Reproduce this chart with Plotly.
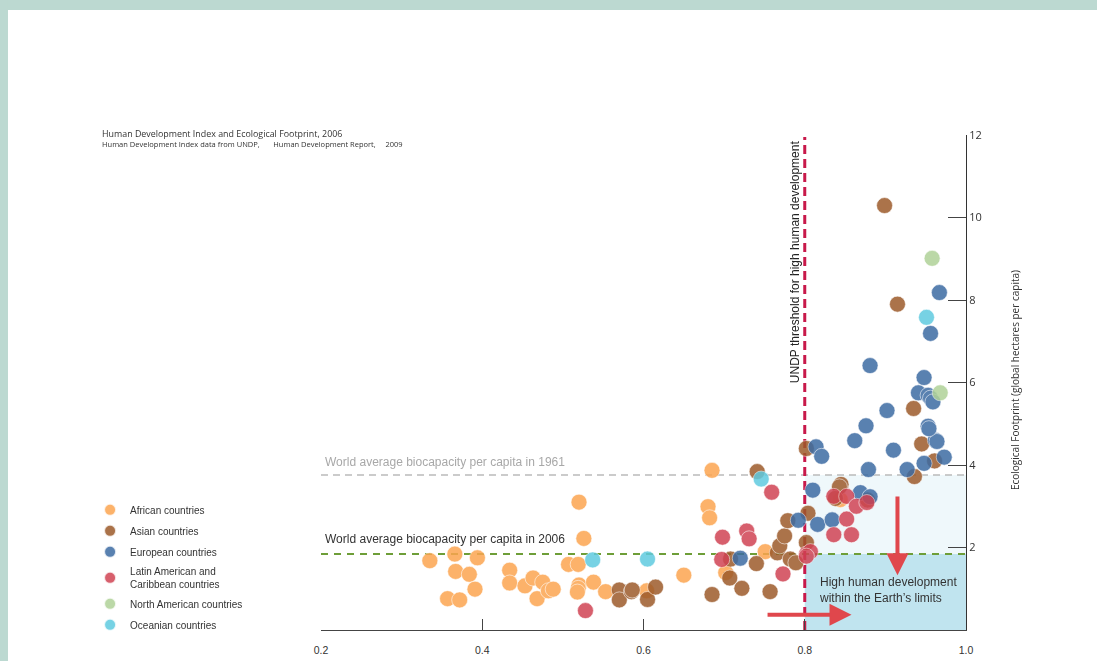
import plotly.graph_objects as go

# ---- data (HDI, Ecological Footprint) ----
african_hdi = [0.335, 0.366, 0.394, 0.367, 0.384, 0.391, 0.357, 0.372, 0.434, 0.434, 0.453,
               0.463, 0.475, 0.468, 0.482, 0.488, 0.520, 0.526, 0.507, 0.519, 0.520, 0.519,
               0.518, 0.538, 0.553, 0.604, 0.650, 0.685, 0.680, 0.682, 0.702, 0.751, 0.844]
african_ef = [1.68, 1.84, 1.75, 1.42, 1.35, 0.99, 0.76, 0.73, 1.45, 1.14, 1.07,
              1.26, 1.16, 0.76, 0.95, 0.99, 3.10, 2.22, 1.59, 1.59, 1.09, 1.01,
              0.92, 1.16, 0.93, 0.95, 1.33, 3.87, 2.99, 2.72, 1.39, 1.90, 3.16]

asian_hdi = [0.570, 0.570, 0.585, 0.586, 0.605, 0.615, 0.685, 0.708, 0.707, 0.722, 0.741,
             0.740, 0.757, 0.766, 0.769, 0.775, 0.779, 0.782, 0.789, 0.804, 0.802, 0.802,
             0.845, 0.843, 0.838, 0.878, 0.899, 0.915, 0.935, 0.945, 0.961, 0.936]
asian_ef = [0.97, 0.73, 0.93, 0.97, 0.74, 1.04, 0.86, 1.72, 1.26, 1.01, 3.84,
            1.61, 0.93, 1.87, 2.04, 2.28, 2.65, 1.72, 1.63, 2.83, 2.12, 4.40,
            3.53, 3.47, 3.19, 3.15, 10.29, 7.90, 5.37, 4.51, 4.10, 3.72]

european_hdi = [0.720, 0.792, 0.810, 0.816, 0.814, 0.821, 0.834, 0.869, 0.881, 0.862, 0.876,
                0.879, 0.881, 0.902, 0.910, 0.927, 0.948, 0.973, 0.962, 0.964, 0.953, 0.954,
                0.941, 0.953, 0.956, 0.959, 0.948, 0.956, 0.967]
european_ef = [1.74, 2.66, 3.39, 2.56, 4.44, 4.21, 2.67, 3.33, 3.23, 4.59, 4.95,
               3.89, 6.41, 5.32, 4.36, 3.89, 4.04, 4.19, 4.60, 4.57, 4.94, 4.88,
               5.75, 5.69, 5.62, 5.53, 6.12, 7.19, 8.18]

latin_hdi = [0.528, 0.698, 0.697, 0.728, 0.731, 0.759, 0.773, 0.802, 0.807, 0.802,
             0.836, 0.852, 0.864, 0.877, 0.852, 0.836, 0.858]
latin_ef = [0.47, 2.25, 1.71, 2.40, 2.21, 3.34, 1.36, 1.84, 1.90, 1.79,
            3.24, 3.24, 3.00, 3.09, 2.69, 2.31, 2.31]

north_hdi = [0.958, 0.968]
north_ef = [9.01, 5.75]

oceania_hdi = [0.537, 0.605, 0.746, 0.951]
oceania_ef = [1.70, 1.72, 3.66, 7.58]

groups = [
    ("African countries", african_hdi, african_ef, "#FCA550"),
    ("Asian countries", asian_hdi, asian_ef, "#9C5A2A"),
    ("European countries", european_hdi, european_ef, "#3D6BA3"),
    ("Latin American and<br>Caribbean countries", latin_hdi, latin_ef, "#D04353"),
    ("North American countries", north_hdi, north_ef, "#B0D298"),
    ("Oceanian countries", oceania_hdi, oceania_ef, "#5FCAE0"),
]

biocap_1961 = 3.76
biocap_2006 = 1.84
hdi_threshold = 0.8
x_ticks = [0.2, 0.4, 0.6, 0.8, 1.0]
x_ticktext = ["0.2", "0.4", "0.6", "0.8", "1.0"]
y_ticks = [2, 4, 6, 8, 10, 12]

fig = go.Figure()
for i, (name, xs, ys, col) in enumerate(groups):
    fig.add_trace(go.Scatter(
        x=xs, y=ys, mode="markers", name=name, legendgroup=f"g{i}",
        marker=dict(size=16, color=col, line=dict(width=0.7, color="rgba(255,255,255,0.8)")),
        opacity=0.85, cliponaxis=False, hoverinfo="x+y+name"))

shapes = [
    dict(type="rect", xref="x", yref="y", x0=hdi_threshold, x1=1.0, y0=biocap_2006, y1=biocap_1961,
         fillcolor="#EFF8FB", line=dict(width=0), layer="below"),
    dict(type="rect", xref="x", yref="y", x0=hdi_threshold, x1=1.0, y0=0, y1=biocap_2006,
         fillcolor="#C0E4EF", line=dict(width=0), layer="below"),
    dict(type="line", xref="x", yref="y", x0=0.2, x1=1.0, y0=biocap_1961, y1=biocap_1961,
         line=dict(color="#BBBBBB", width=1.5, dash="7px,5px"), layer="below"),
    dict(type="line", xref="x", yref="y", x0=0.2, x1=1.0, y0=biocap_2006, y1=biocap_2006,
         line=dict(color="#6E9E38", width=2, dash="7px,6px"), layer="below"),
    dict(type="line", xref="x", yref="y", x0=hdi_threshold, x1=hdi_threshold, y0=0, y1=11.95,
         line=dict(color="#C8194A", width=3, dash="9px,5px"), layer="below"),
    # teal page border strips
    dict(type="rect", xref="paper", yref="paper", x0=-0.5, x1=1.21, y0=1.2525, y1=1.28,
         fillcolor="#BCD9D1", line=dict(width=0)),
    dict(type="rect", xref="paper", yref="paper", x0=-0.5, x1=-0.4853, y0=-0.07, y1=1.28,
         fillcolor="#BCD9D1", line=dict(width=0)),
]

ann = [
    dict(xref="paper", yref="paper", x=-0.3426, y=1.004, xanchor="left", yanchor="middle",
         text="Human Development Index and Ecological Footprint, 2006", showarrow=False,
         font=dict(family="Open Sans", size=8.9, color="#333")),
    dict(xref="paper", yref="paper", x=-0.3426, y=0.981, xanchor="left", yanchor="middle",
         text="Human Development Index data from UNDP,&nbsp;&nbsp;&nbsp;&nbsp;&nbsp;&nbsp;&nbsp;Human Development Report,&nbsp;&nbsp;&nbsp;&nbsp;&nbsp;2009",
         showarrow=False, font=dict(family="Open Sans", size=7.5, color="#333")),
    dict(xref="x", yref="y", x=0.202, y=4.07, xanchor="left", yanchor="middle",
         text="World average biocapacity per capita in 1961", showarrow=False,
         font=dict(family="Liberation Sans", size=12, color="#A8A8A8")),
    dict(xref="x", yref="y", x=0.202, y=2.2, xanchor="left", yanchor="middle",
         text="World average biocapacity per capita in 2006", showarrow=False,
         font=dict(family="Liberation Sans", size=12, color="#333")),
    dict(xref="x", yref="y", x=0.788, y=8.92, xanchor="center", yanchor="middle", textangle=-90,
         text="UNDP threshold for high human development", showarrow=False,
         font=dict(family="Liberation Sans", size=12, color="#222")),
    dict(xref="x", yref="y", x=0.815, y=0.97, xanchor="left", yanchor="middle", align="left",
         text="High human development<br>within the Earth’s limits", showarrow=False,
         font=dict(family="Liberation Sans", size=12, color="#333")),
    dict(xref="paper", yref="paper", x=1.076, y=0.505, xanchor="center", yanchor="middle", textangle=-90,
         text="Ecological Footprint (global hectares per capita)", showarrow=False,
         font=dict(family="Open Sans", size=10, color="#333")),
    # arrows
    dict(xref="x", yref="y", axref="x", ayref="y", x=0.915, y=1.33, ax=0.915, ay=3.27,
         text="", showarrow=True, arrowhead=2, arrowsize=1.1, arrowwidth=4, arrowcolor="#E0474C"),
    dict(xref="x", yref="y", axref="x", ayref="y", x=0.858, y=0.37, ax=0.752, ay=0.37,
         text="", showarrow=True, arrowhead=2, arrowsize=1.1, arrowwidth=4, arrowcolor="#E0474C"),
]

fig.update_layout(
    width=1097, height=661,
    margin=dict(l=321, r=131, t=135, b=31, autoexpand=False),
    paper_bgcolor="white", plot_bgcolor="white",
    shapes=shapes, annotations=ann,
    showlegend=True,
    legend=dict(x=-0.358, y=0.272, xanchor="left", yanchor="top", tracegroupgap=2,
                font=dict(family="Liberation Sans", size=10, color="#333"),
                bgcolor="rgba(0,0,0,0)", itemsizing="constant"),
    xaxis=dict(range=[0.2, 1.0], tickvals=x_ticks, ticktext=x_ticktext, showgrid=False, zeroline=False,
               showline=True, linecolor="#444", linewidth=1.2, ticks="inside", ticklen=11,
               tickcolor="#444", ticklabelstandoff=10,
               tickfont=dict(family="Liberation Sans", size=10.5, color="#333")),
    yaxis=dict(range=[0, 12], side="right", tickvals=y_ticks, showgrid=False, zeroline=False,
               showline=True, linecolor="#333", linewidth=1.2, ticks="inside", ticklen=18,
               tickcolor="#444", tickfont=dict(family="Open Sans", size=11, color="#333")),
)

fig.write_html("out.html", config={"displayModeBar": False},
               post_script="document.body.style.margin='0';")
